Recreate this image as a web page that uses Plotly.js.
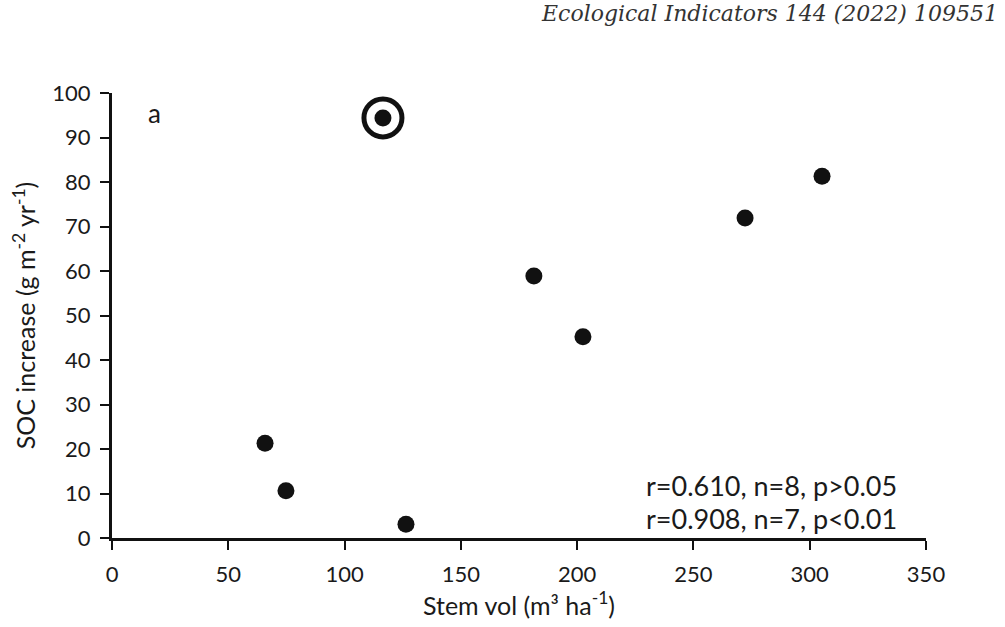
<!DOCTYPE html>
<html>
<head>
<meta charset="utf-8">
<script src="https://cdn.plot.ly/plotly-3.0.1.min.js"></script>
<style>html,body{margin:0;padding:0;background:#fff;}#chart{width:1005px;height:627px;}</style>
</head>
<body>
<div id="chart"></div>
<script>
// Data
const stemVol = [116.5, 65.8, 74.8, 126.4, 181.4, 202.5, 272.2, 305.3];
const socIncrease = [94.4, 21.3, 10.6, 3.1, 58.9, 45.2, 71.9, 81.3];
const outlierIndex = [0];
const xTicks = [0, 50, 100, 150, 200, 250, 300, 350];
const yTicks = [0, 10, 20, 30, 40, 50, 60, 70, 80, 90, 100];
const statsLines = ["r=0.610, n=8, p>0.05", "r=0.908, n=7, p<0.01"];
const panelLabel = "a";
const journalHeader = "Ecological Indicators 144 (2022) 109551";

const FONT = "Lato, 'Open Sans', sans-serif";
const tickFont = {family: FONT, size: 22, color: "#1a1a1a"};

const traces = [
  {
    x: stemVol, y: socIncrease, type: "scatter", mode: "markers",
    marker: {symbol: "circle", size: 17, color: "#111"},
    cliponaxis: false, hoverinfo: "x+y"
  },
  {
    x: outlierIndex.map(i => stemVol[i]), y: outlierIndex.map(i => socIncrease[i]),
    type: "scatter", mode: "markers",
    marker: {symbol: "circle-open", size: 38, color: "#111", line: {width: 5, color: "#111"}},
    cliponaxis: false, hoverinfo: "skip"
  }
];

const layout = {
  width: 1005, height: 627,
  margin: {l: 112, r: 79, t: 93, b: 89},
  paper_bgcolor: "#fff", plot_bgcolor: "#fff",
  showlegend: false,
  xaxis: {
    range: [0, 350], tickvals: xTicks, ticktext: xTicks.map(String),
    showgrid: false, zeroline: false,
    showline: true, linecolor: "#111", linewidth: 3,
    ticks: "outside", ticklen: 9, tickwidth: 2, tickcolor: "#111",
    ticklabelstandoff: 6,
    tickfont: tickFont,
    title: {text: "Stem vol (m³ ha<sup>-1</sup>)", font: {family: FONT, size: 25, color: "#1a1a1a"}, standoff: 5}
  },
  yaxis: {
    range: [0, 100], tickvals: yTicks, ticktext: yTicks.map(String),
    showgrid: false, zeroline: false,
    showline: true, linecolor: "#111", linewidth: 3,
    ticks: "outside", ticklen: 9, tickwidth: 2, tickcolor: "#111",
    ticklabelstandoff: 5,
    tickfont: tickFont,
    title: {text: "SOC increase (g m<sup>-2</sup> yr<sup>-1</sup>)", font: {family: FONT, size: 25, color: "#1a1a1a"}, standoff: 10}
  },
  annotations: [
    {text: panelLabel, xref: "paper", yref: "paper", x: 0.052, y: 0.955, xanchor: "center", yanchor: "middle",
     showarrow: false, font: {family: FONT, size: 26, color: "#1a1a1a"}},
    {text: statsLines[0], xref: "paper", yref: "paper", x: 0.967, y: 0.118, xanchor: "right", yanchor: "middle",
     showarrow: false, font: {family: FONT, size: 27, color: "#1a1a1a"}},
    {text: statsLines[1], xref: "paper", yref: "paper", x: 0.967, y: 0.043, xanchor: "right", yanchor: "middle",
     showarrow: false, font: {family: FONT, size: 27, color: "#1a1a1a"}},
    {text: "<i>" + journalHeader + "</i>", xref: "paper", yref: "paper", x: 1.091, y: 1.178, xanchor: "right", yanchor: "middle",
     showarrow: false, font: {family: "DejaVu Serif, serif", size: 22, color: "#333"}}
  ]
};

Plotly.newPlot("chart", traces, layout, {displayModeBar: false, staticPlot: true});
</script>
</body>
</html>
